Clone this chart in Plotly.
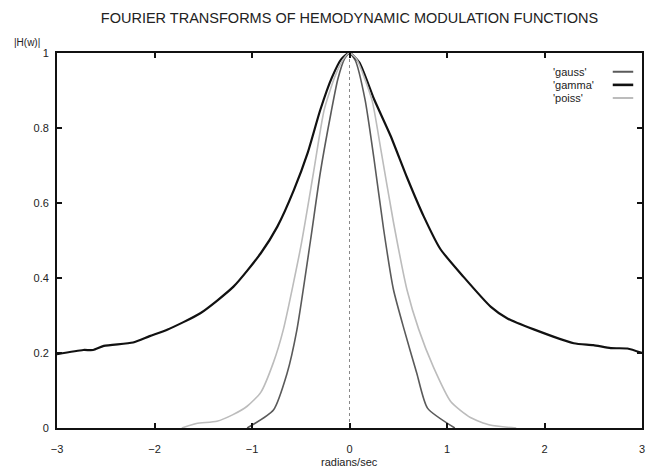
import plotly.graph_objects as go

# ---- data ----
gamma_x = [-3.0, -2.73, -2.63, -2.52, -2.22, -2.05, -1.87, -1.53, -1.19, -0.91, -0.74, -0.57,
           -0.43, -0.30, -0.18, -0.08, 0.0, 0.1, 0.25, 0.42, 0.59, 0.76, 0.93, 1.17, 1.45, 1.62,
           1.89, 2.3, 2.5, 2.68, 2.85, 3.0]
gamma_y = [0.197, 0.208, 0.208, 0.219, 0.228, 0.245, 0.262, 0.306, 0.377, 0.466, 0.537, 0.635,
           0.733, 0.848, 0.935, 0.985, 1.0, 0.975, 0.878, 0.780, 0.668, 0.565, 0.478, 0.403, 0.323,
           0.292, 0.263, 0.226, 0.221, 0.213, 0.212, 0.200]

gauss_x = [-1.05, -0.78, -0.64, -0.54, -0.4, -0.3, -0.19, -0.12, -0.05, 0.0,
           0.06, 0.16, 0.25, 0.35, 0.45, 0.56, 0.69, 0.80, 1.08]
gauss_y = [0.0, 0.048, 0.146, 0.261, 0.5, 0.68, 0.84, 0.93, 0.985, 1.0,
           0.98, 0.875, 0.72, 0.53, 0.37, 0.263, 0.146, 0.053, 0.0]

poiss_x = [-1.72, -1.57, -1.36, -1.2, -1.05, -0.91, -0.78, -0.68, -0.5, -0.37, -0.26, -0.15, -0.06, 0.0,
           0.07, 0.23, 0.32, 0.45, 0.59, 0.71, 0.86, 1.04, 1.24, 1.44, 1.71]
poiss_y = [0.0, 0.012, 0.018, 0.035, 0.058, 0.095, 0.175, 0.261, 0.483, 0.68, 0.848, 0.937, 0.985, 1.0,
           0.985, 0.875, 0.745, 0.55, 0.368, 0.263, 0.163, 0.07, 0.028, 0.008, 0.0]

series_names = ["'gauss'", "'gamma'", "'poiss'"]
x_ticks = [-3, -2, -1, 0, 1, 2, 3]
y_ticks = [0, 0.2, 0.4, 0.6, 0.8, 1]
y_ticklabels = ["0", "0.2", "0.4", "0.6", "0.8", "1"]

title_text = "FOURIER TRANSFORMS OF HEMODYNAMIC MODULATION FUNCTIONS"
x_title = "radians/sec"
y_title = "|H(w)|"

# ---- styles ----
colors = ["#5a5a5a", "#111111", "#bcbcbc"]
widths = [1.6, 2.2, 1.6]
FONT = "Liberation Sans, Arial, sans-serif"

fig = go.Figure()
for xs, ys, name, c, w in zip([gauss_x, gamma_x, poiss_x], [gauss_y, gamma_y, poiss_y],
                              series_names, colors, widths):
    fig.add_trace(go.Scatter(x=xs, y=ys, mode="lines", name=name,
                             line=dict(color=c, width=w, shape="spline", smoothing=0.6),
                             showlegend=False))

# dotted zero line
fig.add_shape(type="line", xref="x", yref="y", x0=0, x1=0, y0=0, y1=1,
              line=dict(color="#888888", width=1, dash="dot"), layer="below")

# custom gnuplot-style key (text then sample)
key_y = [0.95, 0.915, 0.88]
for name, c, w, ky in zip(series_names, colors, widths, key_y):
    fig.add_annotation(xref="paper", yref="paper", x=0.845, y=ky, text=name,
                       showarrow=False, xanchor="left", yanchor="middle",
                       font=dict(family=FONT, size=11, color="#222"))
    fig.add_shape(type="line", xref="paper", yref="paper", x0=0.95, x1=0.985, y0=ky, y1=ky,
                  line=dict(color=c, width=w + 0.4))

# axis titles
fig.add_annotation(xref="paper", yref="paper", x=0.5, y=-0.09, text=x_title, showarrow=False,
                   xanchor="center", yanchor="middle", font=dict(family=FONT, size=11, color="#222"))
fig.add_annotation(xref="paper", yref="paper", x=-0.077, y=1.029, text=y_title, showarrow=False,
                   xanchor="left", yanchor="middle", font=dict(family=FONT, size=10, color="#222"))

axis_common = dict(showgrid=False, zeroline=False, showline=True, linecolor="#111", linewidth=1.8,
                   mirror="ticks", ticks="inside", ticklen=5, tickwidth=1.5, tickcolor="#111",
                   tickfont=dict(family=FONT, size=11, color="#222"))

fig.update_layout(
    width=657, height=476,
    margin=dict(l=57, r=15, t=53, b=48),
    paper_bgcolor="white", plot_bgcolor="white",
    title=dict(text=title_text, x=0.5, xanchor="center", y=1 - 18 / 476, yanchor="middle",
               yref="container", xref="paper",
               font=dict(family=FONT, size=14.5, color="#222")),
    xaxis=dict(range=[-3, 3], tickvals=x_ticks, ticklabelstandoff=10, **axis_common),
    yaxis=dict(range=[0, 1], tickvals=y_ticks, ticktext=y_ticklabels, ticklabelstandoff=4,
               **axis_common),
)

fig.write_html("out.html")
